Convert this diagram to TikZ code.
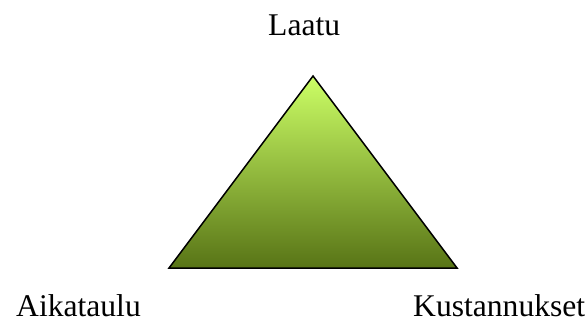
\documentclass[tikz,border=0pt]{standalone}
\usepackage{fontspec}
\setmainfont{Liberation Serif}
\definecolor{toplight}{RGB}{204,255,102}
\definecolor{botdark}{RGB}{88,116,22}
\begin{document}
\begin{tikzpicture}[x=1pt,y=1pt,
  lbl/.style={inner sep=0pt,font=\fontsize{31.6}{36}\selectfont}]
\useasboundingbox (0,0) rectangle (588,327);
\coordinate (apex) at (313,251);
\coordinate (bl) at (169,59);
\coordinate (br) at (457,59);
\shade[top color=toplight,bottom color=botdark,draw=black,line width=1.5pt,line join=miter]
  (apex) -- (bl) -- (br) -- cycle;
\node[lbl,anchor=base west] (q) at (268,291) {Laatu};
\node[lbl,anchor=base west] (s) at (16,11) {Aikataulu};
\node[lbl,anchor=base west] (c) at (413,11) {Kustannukset};
\end{tikzpicture}
\end{document}
